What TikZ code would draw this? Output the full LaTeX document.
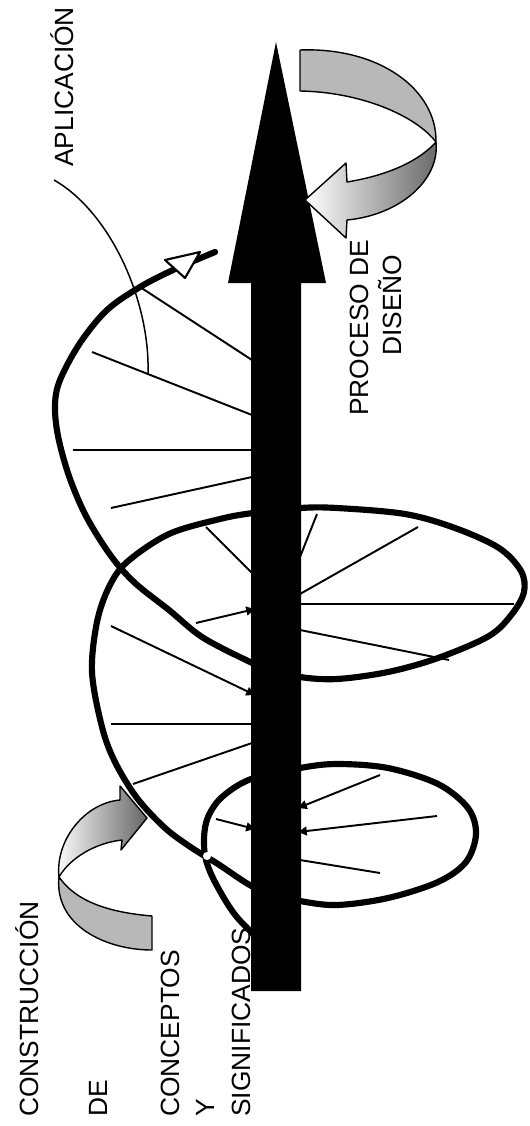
\documentclass[tikz,border=0pt]{standalone}
\usepackage{fontspec}
\setmainfont{Liberation Sans}
\usetikzlibrary{arrows.meta}
\begin{document}
\begin{tikzpicture}[x=0.02cm,y=-0.02cm,
  helix/.style={line width=3.5pt, line join=round, line cap=round},
  spoke/.style={line width=1.1pt},
  tipspoke/.style={spoke, -{Triangle[length=5pt,width=5pt]}},
  ribbon/.style={draw=black, line width=0.8pt, line join=round},
  lbl/.style={rotate=90, anchor=base west, inner sep=0pt, font=\fontsize{15}{16}\selectfont}]
\useasboundingbox (0,0) rectangle (529,1126);

% lower-left ribbon arrow
\path[ribbon, fill=black!28] (59,877) .. controls (54,925) and (105,950) .. (152,950) -- (152,916) .. controls (105,912) and (75,900) .. (59,877) -- cycle;
\path[ribbon, left color=white, right color=black!60] (59,877) .. controls (55,840) and (85,803) .. (120,800) -- (120,786) -- (147,818) -- (121,850) -- (122,840) .. controls (95,843) and (70,858) .. (59,877) -- cycle;

% spokes
\draw[spoke] (140,287) -- (252,360);
\draw[spoke] (92,352) -- (252,415);
\draw[spoke] (73,450) -- (252,450);
\draw[spoke] (111,508) -- (252,477);
\draw[spoke] (206,527) -- (252,573);
\draw[spoke] (317,514) -- (300,557);
\draw[spoke] (418,527) -- (300,594);
\draw[spoke] (514,604) -- (300,604);
\draw[spoke] (449,660) -- (300,630);
\draw[tipspoke] (196,623) -- (255,609);
\draw[tipspoke] (111,626) -- (255,695);
\draw[spoke] (111,724) -- (252,724);
\draw[spoke] (133,784) -- (252,743);
\draw[tipspoke] (216,819) -- (255,829);
\draw[tipspoke] (380,775) -- (298,808);
\draw[tipspoke] (437,816) -- (298,832);
\draw[spoke] (380,873) -- (300,860);

% helix
\draw[helix] plot[smooth, tension=0.55] coordinates {
(265,945) (236,916) (216,884) (206,860) (204,838) (208,817) (222,797) (251,779)
(300,768) (337,764) (388,768) (438,784) (468,808) (476,834) (466,862) (438,882)
(388,898) (337,905) (300,901) (268,893) (248,884) (218,864) (192,848) (165,828)
(137,798) (115,762) (102,727) (92,672) (97,622) (109,587) (127,562) (169,534)
(220,519) (253,513) (300,508) (337,508) (405,514) (455,528) (499,548) (521,571)
(524,592) (512,614) (489,636) (438,658) (388,672) (337,679) (300,677) (268,669)
(246,660) (202,637) (169,610) (135,583) (111,556) (86,516) (69,476) (58,436)
(55,405) (60,380) (80,343) (107,310) (140,287) (173,270) (215,252)};
\fill[white] (207,856) circle (2.3pt);

% main arrow
\fill[black] (251,991) -- (251,283) -- (228,283) -- (276,42) -- (326,283) -- (301,283) -- (301,991) -- cycle;

% upper-right ribbon arrow
\path[ribbon, fill=black!28] (300,50) .. controls (380,47) and (437,90) .. (436,142) .. controls (415,115) and (360,92) .. (300,91) -- cycle;
\path[ribbon, left color=white, right color=black!60] (436,142) .. controls (440,180) and (400,215) .. (347,220) -- (346,238) -- (305,200) -- (346,163) -- (347,182) .. controls (390,175) and (420,160) .. (436,142) -- cycle;

% open arrowhead at helix end
\draw[fill=white, line width=1.2pt, line join=round] (165,260) -- (200,252) -- (185,278) -- cycle;

% labels
\node[lbl] (constr) at (38,1117) {CONSTRUCCIÓN};
\node[lbl] (de) at (107,1117) {DE};
\node[lbl] (conc) at (179,1117) {CONCEPTOS};
\node[lbl] (yy) at (214,1117) {Y};
\node[lbl] (signif) at (250,1117) {SIGNIFICADOS};
\node[lbl] (aplic) at (73,167) {APLICACIÓN};
\node[lbl] (proc) at (368,416) {PROCESO DE};
\node[lbl] (dis) at (401,356) {DISEÑO};

% pointer from APLICACIÓN
\coordinate (ptrend) at (148,373);
\draw[line width=0.85pt] (aplic.base west) ++(-19,13) .. controls (110,212) and (150,300) .. (ptrend);
\end{tikzpicture}
\end{document}
